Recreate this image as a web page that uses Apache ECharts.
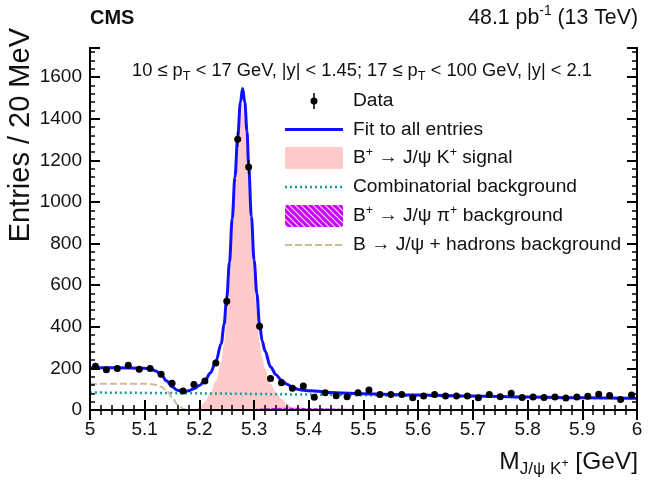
<!DOCTYPE html>
<html><head><meta charset="utf-8">
<script src="https://cdn.jsdelivr.net/npm/echarts@6/dist/echarts.min.js"></script>
<style>html,body{margin:0;padding:0;background:#fff}#c{width:653px;height:483px}</style>
</head><body><div id="c"></div>
<script>
// ---------- data ----------
const massBins = [5.01,5.03,5.05,5.07,5.09,5.11,5.13,5.15,5.17,5.19,5.21,5.23,5.25,5.27,5.29,5.31,5.33,5.35,5.37,5.39,
  5.41,5.43,5.45,5.47,5.49,5.51,5.53,5.55,5.57,5.59,5.61,5.63,5.65,5.67,5.69,5.71,5.73,5.75,5.77,5.79,
  5.81,5.83,5.85,5.87,5.89,5.91,5.93,5.95,5.97,5.99];
const entries = [210,193,200,215,196,200,172,128,91,122,139,226,523,1301,1168,403,152,131,104,115,
  61,83,69,64,83,96,75,75,75,59,67,75,67,67,67,59,75,64,80,60,
  62,60,62,58,62,66,76,70,50,72];
const entryErrors = [14,14,14,15,14,14,13,11,10,11,12,15,23,36,34,20,12,11,10,11,
  8,9,8,8,9,10,9,9,9,8,8,9,8,8,8,8,9,8,9,8,
  8,8,8,8,8,8,9,8,7,8];

const fitMass = [5.00,5.05,5.10,5.11,5.12,5.13,5.14,5.15,5.16,5.17,5.18,5.19,5.20,5.21,5.22,5.23,5.24,5.245,5.25,5.255,
  5.26,5.265,5.27,5.275,5.279,5.283,5.287,5.29,5.295,5.30,5.305,5.31,5.315,5.32,5.33,5.34,5.35,5.36,5.37,5.38,
  5.39,5.40,5.45,5.50,5.60,5.70,5.80,5.90,6.00];
const fitEntries = [203,203,201,197,188,170,140,112,95,89,92,102,118,140,178,232,320,410,540,710,
  920,1120,1310,1480,1545,1480,1340,1180,930,720,560,410,330,283,208,170,143,124,110,100,
  95,92,83,78,72,67,62,59,56];

const signalMass = [5.19,5.20,5.21,5.22,5.23,5.24,5.245,5.25,5.255,5.26,5.265,5.27,5.275,5.279,5.283,5.287,5.29,5.295,5.30,
  5.305,5.31,5.315,5.32,5.33,5.34,5.35,5.36,5.37,5.38,5.39];
const signalEntries = [0,12,38,80,140,230,320,450,615,830,1035,1225,1395,1462,1395,1255,1095,845,635,
  475,328,250,198,125,85,55,30,14,5,0];

const combMass = [5.00,5.20,5.40,5.60,5.80,6.00];
const combEntries = [84,80,74,68,62,56];

const piMass = [5.27,5.29,5.31,5.34,5.37,5.40,5.45,5.50,5.55,5.60];
const piEntries = [0,3,7,10,11,10,7,4,2,0];

const hadMass = [5.00,5.10,5.11,5.12,5.13,5.14,5.15,5.16,5.17,5.18,5.20];
const hadEntries = [126,126,125,121,112,94,62,26,6,0,0];

const xTickLabels = ['5','5.1','5.2','5.3','5.4','5.5','5.6','5.7','5.8','5.9','6'];
const yTickLabels = ['0','200','400','600','800','1000','1200','1400','1600'];

// ---------- styling ----------
const FONT = '"Liberation Sans", Arial, Helvetica, sans-serif';
const C_FIT = '#1111ff', C_SIG = '#ffcaca', C_COMB = '#1a9c9c', C_PI = '#cc00ff', C_HAD = '#cfbb98', C_TXT = '#111';

const pc = document.createElement('canvas'); pc.width = 6; pc.height = 6;
(function(){ const g = pc.getContext('2d'); g.fillStyle = C_PI; g.fillRect(0,0,6,6);
  g.strokeStyle = 'rgba(255,255,255,0.85)'; g.lineWidth = 1.2; g.beginPath();
  g.moveTo(-1,-1); g.lineTo(7,7); g.moveTo(-1,5); g.lineTo(1,7); g.moveTo(5,-1); g.lineTo(7,1); g.stroke(); })();
const hatch = {image: pc, repeat: 'repeat'};

const mctx = document.createElement('canvas').getContext('2d');
function tw(t, s, w){ mctx.font = (w||'normal') + ' ' + s + 'px ' + FONT; return mctx.measureText(t).width; }
function rich(parts, x, base, size, align, weight){
  const spec = p => {
    if (p.k === 'sup') return {s: size*0.65, b: -size*0.42};
    if (p.k === 'sub') return {s: size*0.7, b: size*0.22};
    if (p.k === 'subsup') return {s: size*0.5, b: -size*0.1};
    return {s: size, b: 0};
  };
  const ws = parts.map(p => tw(p.t, spec(p).s, weight));
  const total = ws.reduce((a,b)=>a+b,0);
  let cx = align === 'right' ? x - total : align === 'center' ? x - total/2 : x;
  return parts.map((p,i) => { const sp = spec(p); const el = {type:'text', x: cx, y: base + sp.b - 0.33*sp.s, z: 100,
      style:{text: p.t, fontSize: sp.s, fontFamily: FONT, fontWeight: weight||'normal', fill: C_TXT, align:'left', verticalAlign:'middle'}};
    cx += ws[i]; return el; });
}

const graphics = [];
graphics.push(...rich([{t:'CMS'}], 90, 25, 20, 'left', 'bold'));
graphics.push(...rich([{t:'48.1 pb'},{t:'-1',k:'sup'},{t:' (13 TeV)'}], 638, 25, 21.3, 'right'));
graphics.push(...rich([{t:'10 ≤ p'},{t:'T',k:'sub'},{t:' < 17 GeV, |y| < 1.45; 17 ≤ p'},{t:'T',k:'sub'},{t:' < 100 GeV, |y| < 2.1'}], 362, 77, 18.3, 'center'));
// axis titles
graphics.push(...rich([{t:'M'},{t:'J/ψ K',k:'sub'},{t:'+',k:'subsup'},{t:' [GeV]'}], 638, 470, 24.5, 'right'));
graphics.push({type:'text', x: 21, y: 28, rotation: Math.PI/2, z: 100,
  style:{text:'Entries / 20 MeV', fontSize: 29, fontFamily: FONT, fill: C_TXT, align:'right', verticalAlign:'middle'}});

// legend
const LX = 285, LW = 58, TX = 353, rows = [101, 129.5, 158, 187, 216, 245], LS = 19.2;
graphics.push({type:'line', z:100, shape:{x1:LX+LW/2, y1:rows[0]-8, x2:LX+LW/2, y2:rows[0]+8}, style:{stroke:'#000', lineWidth:1.5}});
graphics.push({type:'circle', z:100, shape:{cx:LX+LW/2, cy:rows[0], r:3.5}, style:{fill:'#000'}});
graphics.push({type:'line', z:100, shape:{x1:LX, y1:rows[1], x2:LX+LW, y2:rows[1]}, style:{stroke:C_FIT, lineWidth:3}});
graphics.push({type:'rect', z:100, shape:{x:LX, y:rows[2]-11, width:LW, height:22, r:2}, style:{fill:C_SIG}});
graphics.push({type:'line', z:100, shape:{x1:LX, y1:rows[3], x2:LX+LW, y2:rows[3]}, style:{stroke:C_COMB, lineWidth:2.5, lineDash:[2,3]}});
graphics.push({type:'rect', z:100, shape:{x:LX, y:rows[4]-11, width:LW, height:22, r:2}, style:{fill:hatch}});
graphics.push({type:'line', z:100, shape:{x1:LX, y1:rows[5], x2:LX+LW, y2:rows[5]}, style:{stroke:C_HAD, lineWidth:2, lineDash:[7,3]}});
const off = 0.33*LS;
graphics.push(...rich([{t:'Data'}], TX, rows[0]+off, LS, 'left'));
graphics.push(...rich([{t:'Fit to all entries'}], TX, rows[1]+off, LS, 'left'));
graphics.push(...rich([{t:'B'},{t:'+',k:'sup'},{t:' → J/ψ K'},{t:'+',k:'sup'},{t:' signal'}], TX, rows[2]+off, LS, 'left'));
graphics.push(...rich([{t:'Combinatorial background'}], TX, rows[3]+off, LS, 'left'));
graphics.push(...rich([{t:'B'},{t:'+',k:'sup'},{t:' → J/ψ π'},{t:'+',k:'sup'},{t:' background'}], TX, rows[4]+off, LS, 'left'));
graphics.push(...rich([{t:'B → J/ψ + hadrons background'}], TX, rows[5]+off, LS, 'left'));

const axisLine = {show:true, lineStyle:{color:'#000', width:2}};
function xAx(pos, labels){ return {type:'value', min:5, max:6, interval:0.1, position:pos, z:20,
  axisLine: axisLine, axisTick:{show:true, inside:true, length:10, lineStyle:{color:'#000', width:2}},
  minorTick:{show:true, splitNumber:5, length:5, lineStyle:{color:'#000', width:1.5}},
  splitLine:{show:false}, minorSplitLine:{show:false},
  axisLabel:{show:labels, fontSize:19, fontFamily:FONT, color:C_TXT, margin:10,
    formatter: v => xTickLabels[Math.round((v-5)*10)] ?? ''}}; }
function yAx(pos, interval, tickLen, labels){ return {type:'value', min:0, max:1740, interval:interval, position:pos, z:20,
  axisLine: axisLine, axisTick:{show:true, inside:true, length:tickLen, lineStyle:{color:'#000', width: tickLen>6?2:1.5}},
  splitLine:{show:false},
  axisLabel:{show:labels, fontSize:19, fontFamily:FONT, color:C_TXT, margin:8,
    formatter: v => (v % 200 === 0 && yTickLabels[v/200] !== undefined) ? yTickLabels[v/200] : ''}}; }

const pairs = (xs, ys) => xs.map((x,i)=>[x, ys[i]]);

const option = {
  animation:false,
  grid:{left:90, right:16, top:48, bottom:73, show:false},
  xAxis:[xAx('bottom', true), xAx('top', false)],
  yAxis:[yAx('left',200,10,true), yAx('left',40,5,false), yAx('right',200,10,false), yAx('right',40,5,false)],
  series:[
    {name:'B+ → J/ψ K+ signal', type:'line', data:pairs(signalMass, signalEntries), smooth:0.35, smoothMonotone:'x', showSymbol:false,
      lineStyle:{width:0}, areaStyle:{color:C_SIG, opacity:1}, z:2},
    {name:'B+ → J/ψ π+ background', type:'line', data:pairs(piMass, piEntries), smooth:0.3, showSymbol:false,
      lineStyle:{width:0}, areaStyle:{color:hatch, opacity:1}, z:3},
    {name:'Combinatorial background', type:'line', data:pairs(combMass, combEntries), smooth:0.3, showSymbol:false,
      lineStyle:{color:C_COMB, width:2.5, type:[2,3]}, z:4},
    {name:'B → J/ψ + hadrons background', type:'line', data:pairs(hadMass, hadEntries), smooth:0.35, smoothMonotone:'x', showSymbol:false,
      lineStyle:{color:C_HAD, width:2, type:[7,3]}, z:5},
    {name:'Fit to all entries', type:'line', data:pairs(fitMass, fitEntries), smooth:0.35, smoothMonotone:'x', showSymbol:false,
      lineStyle:{color:C_FIT, width:3}, z:6},
    {name:'Data', type:'custom', z:7, data: massBins.map((m,i)=>[m, entries[i], entryErrors[i]]),
      renderItem:(params, api)=>{ const x=api.value(0), y=api.value(1), e=api.value(2);
        const p=api.coord([x,y]), t=api.coord([x,y+e]), b=api.coord([x,y-e]);
        return {type:'group', children:[
          {type:'line', shape:{x1:p[0], y1:t[1], x2:p[0], y2:b[1]}, style:{stroke:'#000', lineWidth:1.5}},
          {type:'circle', shape:{cx:p[0], cy:p[1], r:3.5}, style:{fill:'#000'}}]}; }}
  ],
  graphic: graphics
};
const chart = echarts.init(document.getElementById('c'), null, {renderer:'canvas'});
chart.setOption(option);
</script></body></html>
